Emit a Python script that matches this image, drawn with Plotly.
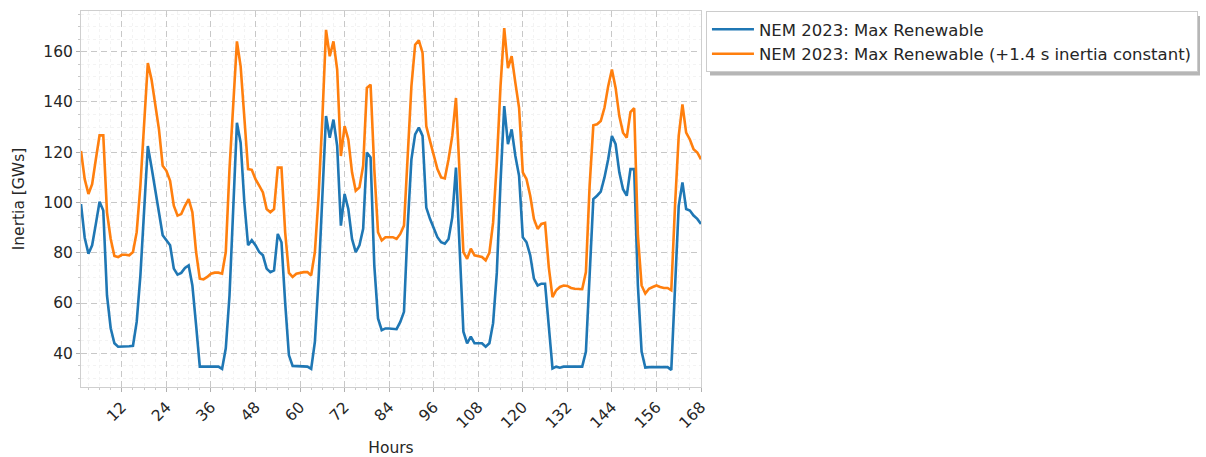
import plotly.graph_objects as go

# Hourly system inertia over one week (hours 1..168), GWs
hours = list(range(1, 169))

max_renewable = [
    99.4, 86, 79.6, 83, 91.5, 100.3, 96.8, 63, 50, 44, 42.6, 42.6,
    42.6, 42.8, 43, 52.5, 71, 98.7, 122.5, 114, 104, 96, 87, 84.9,
    83, 73.7, 71.3, 72, 74, 75, 67, 51.2, 34.7, 34.7, 34.7, 35,
    35, 34.7, 33.8, 42, 63, 98.7, 131.7, 123.8, 100, 83, 85, 83,
    80.3, 79, 73.7, 72.3, 73, 87.5, 84.2, 60, 39.3, 35, 35, 35,
    35, 34.7, 33.8, 44.6, 69.7, 101.4, 134.4, 125.8, 133, 122.5, 90.8, 103.4,
    97.4, 85.5, 80.3, 83, 89.5, 119.9, 117.9, 75, 53.9, 49.2, 49.9, 49.9,
    49.6, 49.6, 52.5, 56.5, 90.8, 117.2, 127.1, 129.8, 126.5, 98, 93.5, 89.5,
    86.2, 84.2, 83.6, 85.5, 94.1, 113.9, 80, 48.6, 44, 46.6, 44, 44,
    44, 42.6, 44, 52, 72, 108, 138.4, 123.2, 129.1, 118.5, 110.6, 86.2,
    84.2, 79, 69.7, 67, 67.7, 67.7, 50, 34, 34.7, 34.3, 34.7, 34.7,
    34.7, 34.7, 34.7, 34.7, 40.7, 72.3, 101.4, 102.7, 104.3, 110, 117.2, 126.5,
    123.2, 112, 105.3, 102.7, 113.3, 113.3, 67, 40.7, 34.3, 34.5, 34.5, 34.5,
    34.5, 34.5, 34.5, 33.4, 67, 98.7, 108, 97.4, 96.8, 94.8, 93.5, 91.5,
]

max_renewable_plus_h = [
    120.5, 109.3, 103.4, 107.3, 117.2, 126.7, 126.7, 96.1, 85.5, 78.7, 78.3, 79.2,
    79.2, 79, 80.3, 88.2, 106.7, 129.1, 155.5, 148.9, 139.7, 129.1, 114.6, 112.6,
    108.6, 98.7, 94.8, 95.4, 98.7, 101.4, 96.1, 80.3, 69.7, 69.4, 70.4, 71.7,
    72.1, 72.1, 71.7, 80.3, 113.3, 138.4, 164.1, 154.2, 133.1, 113.3, 113, 109.3,
    106.7, 104, 97.4, 96.1, 97.4, 113.9, 113.9, 88, 72, 70.4, 71.7, 72.1,
    72.3, 72.3, 71, 80.3, 102.7, 133, 168.7, 158.2, 164.1, 152.9, 118.5, 130.4,
    125.1, 112, 104.7, 106, 114.6, 145.6, 146.9, 113.3, 88.2, 84.9, 86.2, 86.2,
    86.2, 85.5, 87.5, 90.8, 119.9, 146.3, 162.8, 164.5, 159.5, 130.4, 124.5, 118.5,
    113.3, 110, 109.6, 117.2, 126.5, 141.6, 110, 80.3, 77.6, 81.6, 79, 78.7,
    78.3, 77, 80, 92, 115.9, 146.3, 169.4, 153.5, 158.2, 147.6, 137.7, 112,
    109.3, 102.7, 93.5, 89.5, 91.5, 91.9, 74.3, 62.4, 65.1, 66.4, 67, 66.8,
    66, 65.7, 65.7, 65.5, 72.3, 106.7, 130.7, 131.1, 132.4, 137.7, 146.3, 152.9,
    145.6, 134.4, 127.8, 125.8, 136, 137.5, 86.9, 67, 63.8, 65.7, 66.4, 67,
    66.4, 66, 66, 65.1, 98.7, 126.5, 139, 127.8, 125.1, 121.2, 119.9, 117.2,
]

series_names = [
    "NEM 2023: Max Renewable",
    "NEM 2023: Max Renewable (+1.4 s inertia constant)",
]
series_colors = ["#1f77b4", "#ff7f0e"]

fig = go.Figure()
for name, values, color in zip(series_names, [max_renewable, max_renewable_plus_h], series_colors):
    fig.add_trace(go.Scatter(
        x=hours, y=values, mode="lines", name=name,
        line=dict(color=color, width=2.6),
    ))

axis_common = dict(
    showline=True, mirror=True, linecolor="#cfcfcf", linewidth=1,
    showgrid=True, gridcolor="#c8c8c8", griddash="6px,4px", gridwidth=1,
    zeroline=False, ticks="outside", ticklen=4, tickcolor="#b0b0b0",
    tickfont=dict(size=15.5, color="#262626"),
)

fig.update_xaxes(
    range=[1, 168], tickmode="linear", tick0=0, dtick=12, tickangle=-45,
    minor=dict(tickmode="linear", tick0=0, dtick=3, ticks="outside", ticklen=2,
               tickcolor="#c8c8c8", showgrid=True, gridcolor="#f3f3f3", griddash="dot"),
    title=dict(text="Hours", font=dict(size=15.5, color="#262626"), standoff=14),
    **axis_common,
)
fig.update_yaxes(
    range=[26.6, 176.2], tickmode="linear", tick0=0, dtick=20,
    minor=dict(tickmode="linear", tick0=0, dtick=5, ticks="outside", ticklen=2,
               tickcolor="#c8c8c8", showgrid=True, gridcolor="#f3f3f3", griddash="dot"),
    title=dict(text="Inertia [GWs]", font=dict(size=15.5, color="#262626"), standoff=14),
    **axis_common,
)

# soft drop shadow behind the legend box (pixel box -> paper coordinates)
plot_left, plot_width, plot_bottom, plot_height = 81, 620, 387, 376
def px_to_paper_x(px):
    return (px - plot_left) / plot_width
def px_to_paper_y(py):
    return (plot_bottom - py) / plot_height

fig.add_shape(
    type="rect", xref="paper", yref="paper", layer="above",
    x0=px_to_paper_x(710), x1=px_to_paper_x(1200),
    y0=px_to_paper_y(75.5), y1=px_to_paper_y(16),
    fillcolor="rgba(110,110,110,0.5)", line=dict(width=0),
)

fig.update_layout(
    width=1206, height=457,
    margin=dict(l=81, r=505, t=11, b=70, autoexpand=False),
    paper_bgcolor="white", plot_bgcolor="white",
    font=dict(family="DejaVu Sans", size=14, color="#262626"),
    showlegend=True,
    legend=dict(
        x=1.008, y=1.0, xanchor="left", yanchor="top",
        bgcolor="white", bordercolor="#cccccc", borderwidth=1,
        font=dict(size=16.5, color="#262626"),
        tracegroupgap=0, itemwidth=42,
    ),
)

fig.write_html("out.html")
